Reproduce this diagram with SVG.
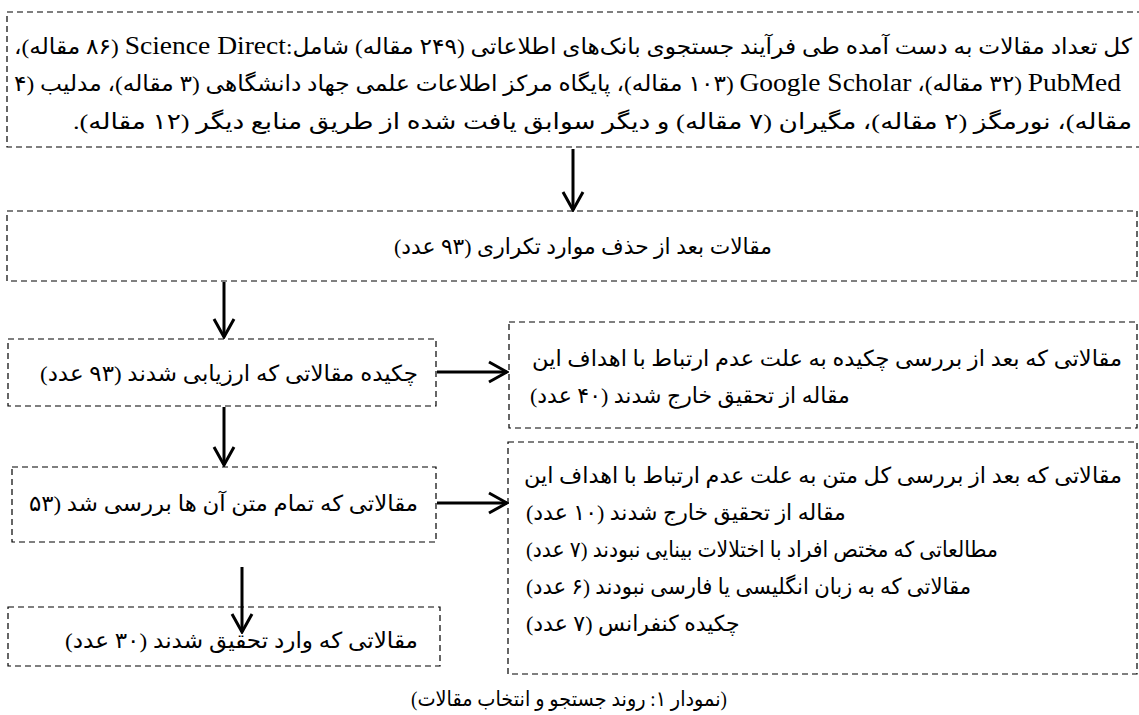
<svg xmlns="http://www.w3.org/2000/svg" width="1139" height="715" viewBox="0 0 1139 715">
<style>
.box{fill:#fff;stroke:#000;stroke-width:1.2;stroke-dasharray:6 4}
.t{font-family:'Liberation Serif','DejaVu Sans',serif;font-size:22px;fill:#000;direction:rtl}
.lat{font-family:'Liberation Serif',serif;font-size:26px}
.cap{font-size:21px}
.c{fill:none;stroke:#000;stroke-width:3}
</style>
<defs>
<marker id="v" viewBox="0 0 22 24" refX="20" refY="12" markerWidth="22" markerHeight="24" markerUnits="userSpaceOnUse" orient="auto">
<path d="M2,2 L20,12 L2,22" fill="none" stroke="#000" stroke-width="3"/>
</marker>
</defs>
<rect width="1139" height="715" fill="#fff"/>
<g id="n-sources">
<rect class="box" x="7" y="12" width="1150" height="135"/>
<text class="t" x="1132" y="54" text-anchor="start" textLength="1118" lengthAdjust="spacingAndGlyphs">کل تعداد مقالات به دست آمده طی فرآیند جستجوی بانک‌های اطلاعاتی (۲۴۹ مقاله) شامل:<tspan class="lat">Science Direct</tspan> &#x200F;(۸۶ مقاله)،</text>
<text class="t" x="1121" y="91" text-anchor="start" textLength="1107" lengthAdjust="spacingAndGlyphs"><tspan class="lat">PubMed</tspan> &#x200F;(۳۲ مقاله)، <tspan class="lat">Google Scholar</tspan> &#x200F;(۱۰۳ مقاله)، پایگاه مرکز اطلاعات علمی جهاد دانشگاهی (۳ مقاله)، مدلیب (۴</text>
<text class="t" x="1132" y="129" text-anchor="start" textLength="1059" lengthAdjust="spacingAndGlyphs">مقاله)، نورمگز (۲ مقاله)، مگیران (۷ مقاله) و دیگر سوابق یافت شده از طریق منابع دیگر (۱۲ مقاله).</text>
</g>
<g id="n-dedup">
<rect class="box" x="7" y="211" width="1130" height="70"/>
<text class="t" x="583" y="254" text-anchor="middle" textLength="378" lengthAdjust="spacingAndGlyphs">مقالات بعد از حذف موارد تکراری (۹۳ عدد)</text>
</g>
<g id="n-abstracts">
<rect class="box" x="8" y="339" width="428" height="67"/>
<text class="t" x="418" y="381" text-anchor="start" textLength="378" lengthAdjust="spacingAndGlyphs">چکیده مقالاتی که ارزیابی شدند (۹۳ عدد)</text>
</g>
<g id="n-excl1">
<rect class="box" x="509" y="322" width="628" height="106"/>
<text class="t" x="1122" y="366" text-anchor="start" textLength="590" lengthAdjust="spacingAndGlyphs">مقالاتی که بعد از بررسی چکیده به علت عدم ارتباط با اهداف این</text>
<text class="t" x="530" y="403" text-anchor="end">مقاله از تحقیق خارج شدند (۴۰ عدد)</text>
</g>
<g id="n-fulltext">
<rect class="box" x="12" y="467" width="424" height="75"/>
<text class="t" x="418" y="511" text-anchor="start" textLength="389" lengthAdjust="spacingAndGlyphs">مقالاتی که تمام متن آن ها بررسی شد (۵۳</text>
</g>
<g id="n-excl2">
<rect class="box" x="508" y="442" width="629" height="232"/>
<text class="t" x="1122" y="483" text-anchor="start" textLength="598" lengthAdjust="spacingAndGlyphs">مقالاتی که بعد از بررسی کل متن به علت عدم ارتباط با اهداف این</text>
<text class="t" x="526" y="520" text-anchor="end">مقاله از تحقیق خارج شدند (۱۰ عدد)</text>
<text class="t" x="526" y="557" text-anchor="end" textLength="472" lengthAdjust="spacingAndGlyphs">مطالعاتی که مختص افراد با اختلالات بینایی نبودند (۷ عدد)</text>
<text class="t" x="526" y="594" text-anchor="end" textLength="445" lengthAdjust="spacingAndGlyphs">مقالاتی که به زبان انگلیسی یا فارسی نبودند (۶ عدد)</text>
<text class="t" x="526" y="631" text-anchor="end">چکیده کنفرانس (۷ عدد)</text>
</g>
<g id="n-included">
<rect class="box" x="8" y="607" width="432" height="59"/>
<text class="t" x="418" y="648" text-anchor="start" textLength="353" lengthAdjust="spacingAndGlyphs">مقالاتی که وارد تحقیق شدند (۳۰ عدد)</text>
</g>
<g id="connectors">
<path class="c" d="M573,149 L573,210" marker-end="url(#v)"/>
<path class="c" d="M224,282 L224,337" marker-end="url(#v)"/>
<path class="c" d="M224,407 L224,465" marker-end="url(#v)"/>
<path class="c" d="M242,567 L242,632" marker-end="url(#v)"/>
<path class="c" d="M437,372 L507,372" marker-end="url(#v)"/>
<path class="c" d="M437,503 L507,503" marker-end="url(#v)"/>
</g>
<text class="t cap" x="569" y="706" text-anchor="middle" textLength="316" lengthAdjust="spacingAndGlyphs">(نمودار ۱: روند جستجو و انتخاب مقالات)</text>
</svg>
